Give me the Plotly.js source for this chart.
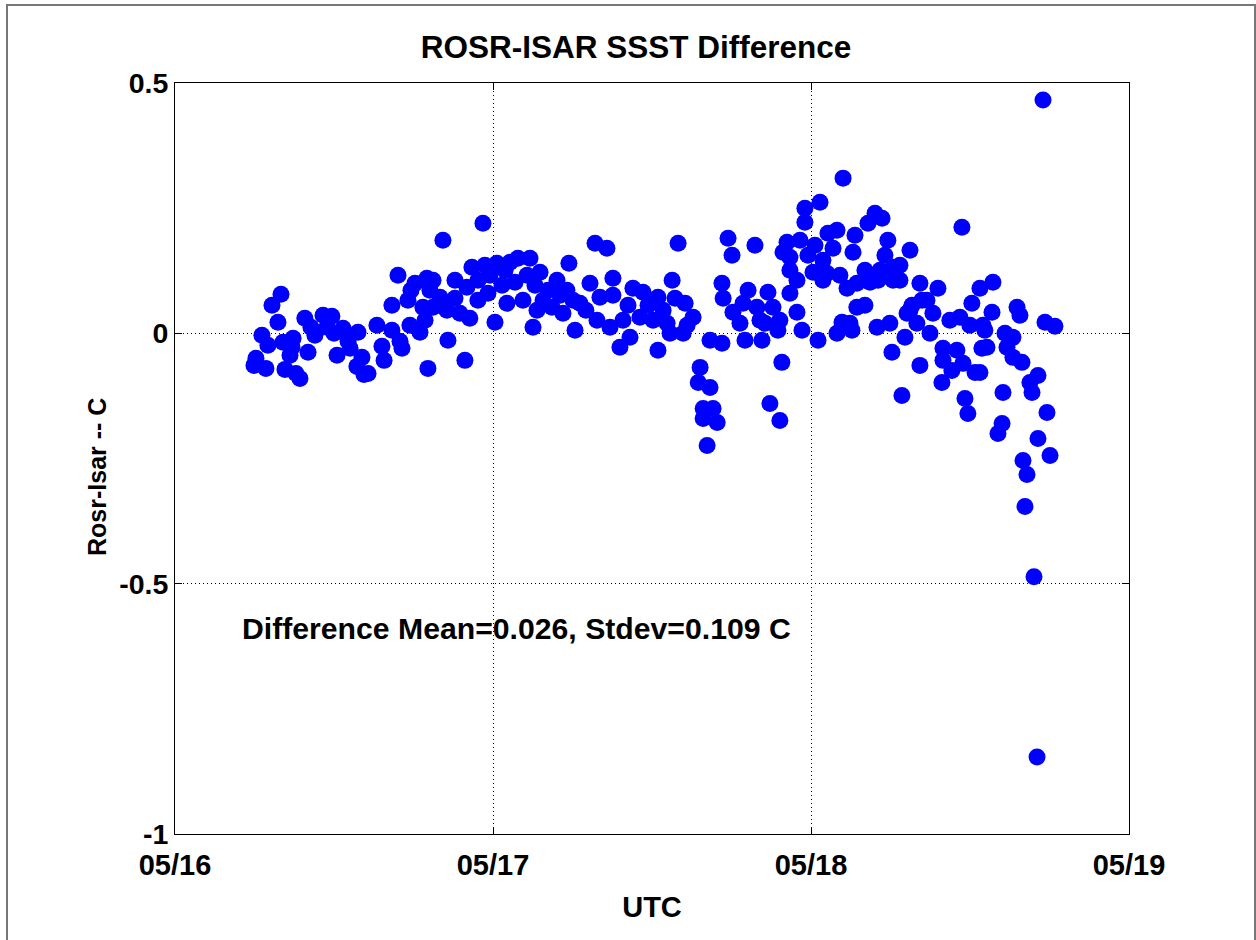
<!DOCTYPE html>
<html>
<head>
<meta charset="utf-8">
<script src="https://cdn.plot.ly/plotly-3.0.1.min.js"></script>
<style>
  html, body { margin: 0; padding: 0; background: #fff; }
  #wrap { position: relative; width: 1256px; height: 940px; overflow: hidden; }
  #chart { position: absolute; left: 0; top: 0; width: 1256px; height: 940px; }
  #frame { position: absolute; left: 6px; top: 4px; width: 1246px; height: 960px;
           border: 2px solid #777; pointer-events: none; }
</style>
</head>
<body>
<div id="wrap">
  <div id="chart"></div>
  <div id="frame"></div>
</div>
<script>
// Hours after 05/16 00:00 UTC
const hoursAfterMay16 = [
  5.96, 6.11, 6.56, 6.86, 7.01, 7.32, 8.00, 7.77, 8.15, 8.30,
  8.83, 8.91, 9.43, 9.80, 10.04, 10.56, 11.17, 11.47, 11.84, 12.00,
  12.23, 12.68, 13.21, 13.81, 13.73, 14.11, 14.57, 15.24, 15.62, 15.78,
  16.37, 16.37, 16.83, 17.13, 17.58, 17.73, 18.11, 18.49, 18.71, 19.01,
  19.09, 13.06, 14.26, 16.98, 17.81, 18.87, 19.24, 8.68, 9.13, 10.26,
  19.47, 19.47, 20.00, 20.22, 20.52, 20.60, 21.13, 21.13, 21.50, 21.88,
  22.03, 22.25, 22.41, 22.86, 23.24, 23.39, 23.62, 24.15, 24.30, 24.68,
  25.05, 25.29, 25.66, 25.88, 26.26, 26.57, 26.79, 27.02, 27.32, 27.55,
  27.78, 28.15, 28.45, 28.83, 29.28, 29.58, 29.73, 30.04, 30.19,
  23.77, 24.91, 22.87, 27.17, 29.06,
  30.56, 31.01, 31.32, 31.70, 31.85, 32.07, 32.60, 32.83, 33.05, 33.05,
  33.58, 33.81, 34.19, 34.34, 34.56, 35.09, 35.32, 35.70, 36.08, 36.45,
  36.45, 36.84, 37.14, 37.36, 37.52, 37.74, 37.97, 38.35, 38.50, 38.65,
  39.10, 39.63, 40.38,
  39.49, 39.86, 39.86, 40.16, 40.38, 41.28, 40.61, 40.92, 41.28, 41.37,
  41.74, 42.04, 42.11, 42.64, 42.87, 43.02, 43.25, 43.77, 43.92, 44.15,
  44.30, 44.53, 44.75, 44.90, 45.13, 45.50, 45.65, 45.65, 45.80, 45.89,
  46.19, 46.41,
  46.41, 46.41, 46.94, 46.94, 47.17, 47.32, 47.54, 47.54, 47.77, 48.15,
  48.30, 48.53, 48.68, 48.90, 48.90, 49.20, 49.28, 49.66, 49.96, 49.96,
  50.18, 50.34, 50.42, 50.72, 50.94, 51.09, 51.17, 51.32, 51.46, 51.46,
  52.07, 52.07, 52.30, 52.45, 52.83, 52.98, 53.06, 53.21, 53.36, 53.58,
  53.80, 53.95, 54.11, 54.19, 54.19, 54.71, 54.71, 55.09, 55.47, 55.47,
  56.22, 56.37,
  54.86, 55.25, 55.62, 55.99, 56.22, 56.75, 56.98, 57.20, 57.58, 57.88,
  57.96, 57.96, 58.48, 58.63, 59.01, 59.24, 59.39, 59.47, 59.62, 59.84,
  59.99, 60.14, 60.38, 60.75, 60.75, 60.90, 60.97, 61.12, 61.28, 61.66,
  61.73, 62.11, 62.42, 62.49, 62.64, 62.79, 63.24, 63.24, 63.55, 63.77,
  63.92, 64.00, 64.15, 64.30, 64.52, 64.68, 64.83, 65.06, 65.13, 65.13,
  65.51, 65.66, 65.81, 66.04, 66.41
];

// ROSR minus ISAR skin SST difference, deg C
const diffC = [
  -0.064, -0.050, -0.004, -0.070, -0.024, 0.056, 0.078, 0.022, -0.018, -0.072,
  -0.028, -0.010, -0.090, 0.030, -0.038, -0.004, 0.036, 0.012, 0.034, 0.000,
  -0.044, 0.010, -0.030, 0.002, -0.066, -0.048, -0.080, 0.016, -0.026, -0.054,
  0.006, 0.056, 0.116, -0.030, 0.066, 0.016, 0.100, 0.002, 0.052, 0.110,
  -0.070, -0.016, -0.082, -0.016, 0.086, 0.026, 0.086, -0.044, -0.080, 0.012,
  0.106, 0.052, 0.072, 0.186, 0.046, -0.014, 0.106, 0.070, 0.040, -0.054,
  0.092, 0.030, 0.132, 0.066, 0.220, 0.136, 0.080, 0.022, 0.140, 0.096,
  0.060, 0.142, 0.102, 0.150, 0.066, 0.116, 0.150, 0.012, 0.046, 0.122,
  0.066, 0.086, 0.052, 0.106, 0.040, 0.086, 0.140, 0.066, 0.006,
  0.116, 0.126, 0.106, 0.096, 0.076,
  0.060, 0.046, 0.100, 0.180, 0.026, 0.072, 0.170, 0.012, 0.110, 0.076,
  -0.028, 0.026, 0.056, -0.008, 0.090, 0.032, 0.082, 0.056, 0.026, 0.072,
  -0.034, 0.046, 0.020, 0.000, 0.106, 0.070, 0.180, 0.000, 0.060, 0.016,
  0.032, -0.068, -0.014,
  -0.098, -0.150, -0.170, -0.224, -0.108, -0.020, -0.150, -0.178, 0.100, 0.070,
  0.190, 0.156, 0.042, 0.020, 0.060, -0.014, 0.086, 0.176, 0.052, 0.026,
  -0.014, 0.020, 0.082, -0.140, 0.052, 0.006, 0.026, -0.174, -0.058, 0.162,
  0.182, 0.126,
  0.152, 0.080, 0.106, 0.042, 0.186, 0.006, 0.250, 0.222, 0.156, 0.122,
  0.176, -0.014, 0.262, 0.146, 0.106, 0.120, 0.200, 0.170, 0.206, 0.000,
  0.116, 0.022, 0.310, 0.090, 0.020, 0.006, 0.162, 0.196, 0.100, 0.052,
  0.126, 0.056, 0.220, 0.102, 0.240, 0.012, 0.106, 0.126, 0.230, 0.156,
  0.186, 0.020, -0.038, 0.132, 0.106, 0.136, 0.106, -0.008, 0.166, 0.046,
  0.100, 0.066,
  -0.124, 0.040, 0.056, 0.020, -0.064, 0.066, 0.000, 0.040, 0.090, -0.098,
  -0.030, -0.054, 0.026, -0.074, -0.034, 0.032, 0.212, -0.060, -0.130, -0.160,
  0.016, 0.060, -0.078, 0.090, -0.078, -0.030, 0.016, 0.006, -0.028, 0.042,
  0.102, -0.200, -0.180, -0.118, 0.000, -0.028, -0.008, -0.048, 0.052, 0.036,
  -0.058, -0.254, -0.346, -0.282, -0.098, -0.118, -0.486, -0.846, -0.084, -0.210,
  0.466, 0.022, -0.158, -0.244, 0.014
];

const yTickVals = [-1, -0.5, 0, 0.5];
const yTickText = ['-1', '-0.5', '0', '0.5'];
const titleText = 'ROSR-ISAR SSST Difference';
const xLabel = 'UTC';
const yLabel = 'Rosr-Isar -- C';
const statsText = 'Difference Mean=0.026, Stdev=0.109 C';

const startMs = Date.UTC(2012, 4, 16, 0, 0, 0);
function toDateStr(h) {
  return new Date(startMs + h * 3600000).toISOString().replace('T', ' ').replace('Z', '');
}
const xDates = hoursAfterMay16.map(toDateStr);

const FONT = 'Liberation Sans, Arial, Helvetica, sans-serif';

const trace = {
  type: 'scatter',
  mode: 'markers',
  x: xDates,
  y: diffC,
  marker: { color: '#0000ff', size: 17, line: { width: 0 } },
  hoverinfo: 'x+y'
};

const layout = {
  width: 1256,
  height: 940,
  margin: { l: 175, r: 127, t: 83, b: 106 },
  paper_bgcolor: '#ffffff',
  plot_bgcolor: '#ffffff',
  showlegend: false,
  font: { family: FONT, color: '#000', weight: 'bold' },
  title: {
    text: titleText,
    font: { family: FONT, size: 31.5, color: '#000', weight: 'bold' },
    x: (636 - 175) / 954, xanchor: 'center', xref: 'paper',
    y: 1 - 47 / 940, yanchor: 'middle', yref: 'container'
  },
  xaxis: {
    type: 'date',
    range: [toDateStr(0), toDateStr(72)],
    tick0: toDateStr(0),
    dtick: 86400000,
    tickformat: '%m/%d',
    ticks: 'inside',
    ticklen: 7,
    tickcolor: '#000',
    showline: true,
    linecolor: '#000',
    linewidth: 1,
    mirror: 'ticks',
    showgrid: true,
    gridcolor: '#000',
    griddash: '1px,3px',
    gridwidth: 1,
    zeroline: false,
    tickfont: { family: FONT, size: 29, color: '#000', weight: 'bold' },
    ticklabelstandoff: 5,
    automargin: false,
    title: { text: xLabel, font: { family: FONT, size: 29, color: '#000', weight: 'bold' }, standoff: 16 }
  },
  yaxis: {
    range: [-1, 0.5],
    tickvals: yTickVals,
    ticktext: yTickText,
    ticks: 'inside',
    ticklen: 7,
    tickcolor: '#000',
    showline: true,
    linecolor: '#000',
    linewidth: 1,
    mirror: 'ticks',
    showgrid: true,
    gridcolor: '#000',
    griddash: '1px,3px',
    gridwidth: 1,
    zeroline: false,
    tickfont: { family: FONT, size: 28.5, color: '#000', weight: 'bold' },
    ticklabelstandoff: 0,
    automargin: false
  },
  annotations: [{
    text: statsText,
    xref: 'paper', yref: 'paper',
    x: (240 - 175) / 954, y: (834 - 628) / 751,
    xanchor: 'left', yanchor: 'middle',
    showarrow: false,
    font: { family: FONT, size: 30.2, color: '#000', weight: 'bold' }
  }, {
    text: yLabel,
    xref: 'paper', yref: 'paper',
    x: (97 - 175) / 954, y: (834 - 477) / 751,
    xanchor: 'center', yanchor: 'middle',
    textangle: -90,
    showarrow: false,
    font: { family: FONT, size: 25, color: '#000', weight: 'bold' }
  }]
};

Plotly.newPlot('chart', [trace], layout, { displayModeBar: false, staticPlot: true });
</script>
</body>
</html>
